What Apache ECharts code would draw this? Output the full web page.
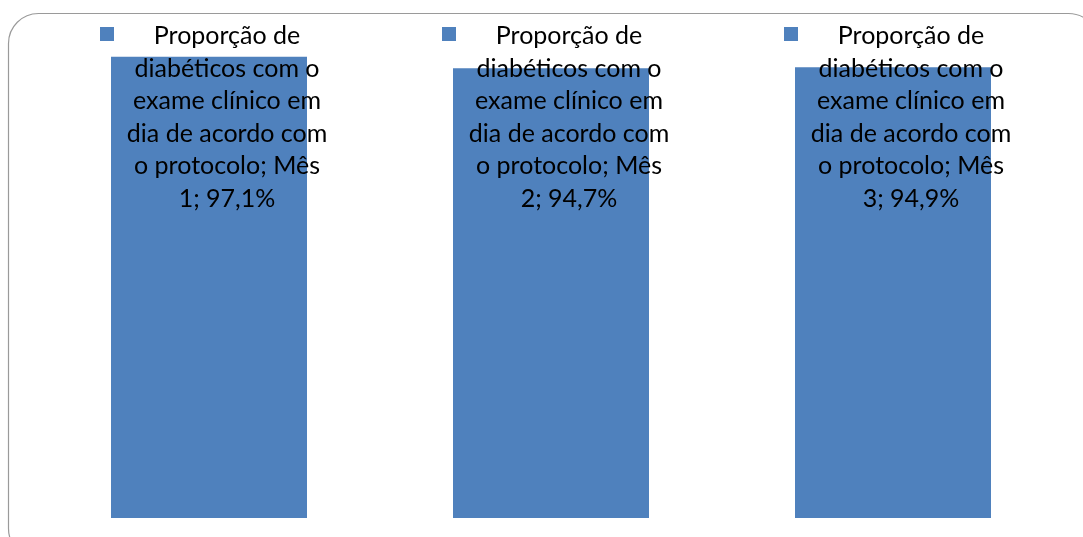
<!DOCTYPE html>
<html><head><meta charset="utf-8">
<script src="https://cdn.jsdelivr.net/npm/echarts@6/dist/echarts.min.js"></script>
<style>html,body{margin:0;padding:0;background:#fff}#c{width:1083px;height:537px}</style>
</head><body><div id="c"></div>
<script>
const seriesName = 'Proporção de diabéticos com o exame clínico em dia de acordo com o protocolo';
const categories = ['Mês 1', 'Mês 2', 'Mês 3'];
const values = [97.1, 94.7, 94.9];
const nameLines = ['Proporção de', 'diabéticos com o', 'exame clínico em', 'dia de acordo com', 'o protocolo;'];

const fmtPct = v => v.toFixed(1).replace('.', ',') + '%';
function labelText(i) {
  const parts = categories[i].split(' ');
  const lines = nameLines.slice(0, -1);
  lines.push(nameLines[nameLines.length - 1] + ' ' + parts[0]);
  lines.push(parts[1] + '; ' + fmtPct(values[i]));
  return lines.join('\n');
}
const COLOR = '#4F81BD';
const chart = echarts.init(document.getElementById('c'));
chart.setOption({
  animation: false,
  backgroundColor: '#fff',
  graphic: [{
    type: 'rect', silent: true, z: -1,
    shape: { x: 8.5, y: 13.5, width: 1090, height: 545, r: 30 },
    style: { fill: 'none', stroke: '#9a9a9a', lineWidth: 1.2 }
  }],
  grid: { left: 38, right: 19, top: 43, bottom: 19 },
  xAxis: { type: 'category', data: categories, show: false },
  yAxis: { type: 'value', min: 0, max: 100, show: false },
  series: [
    { name: seriesName, type: 'bar', data: values, barWidth: 196, barGap: '-100%',
      itemStyle: { color: COLOR }, z: 2 },
    { type: 'bar', data: categories.map(() => 100), barWidth: 196, barGap: '-100%',
      itemStyle: { color: 'rgba(0,0,0,0)' }, z: 3, silent: true,
      label: { show: true, position: 'insideTop', distance: 0, offset: [18, -23],
        formatter: p => labelText(p.dataIndex),
        fontFamily: 'Lato', fontSize: 25, lineHeight: 32.5, color: '#000', align: 'center' } },
    { type: 'bar', data: categories.map(() => 100), barWidth: 196, barGap: '-100%',
      itemStyle: { color: 'rgba(0,0,0,0)' }, z: 3, silent: true,
      label: { show: true, position: 'insideTop', distance: 0, offset: [-102, -16],
        formatter: '{k|}',
        rich: { k: { width: 14, height: 14, backgroundColor: COLOR } } } }
  ]
});
</script></body></html>
